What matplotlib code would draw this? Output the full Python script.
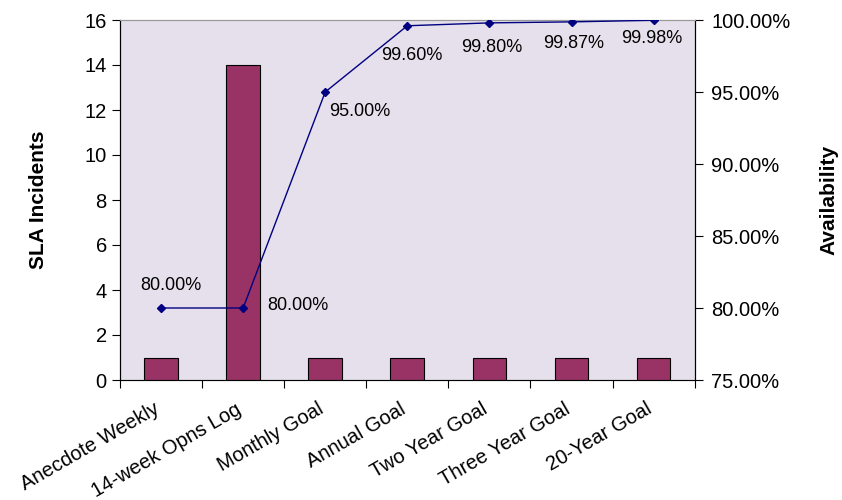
import matplotlib
matplotlib.use("Agg")
import matplotlib.pyplot as plt
import matplotlib.transforms as mtransforms
import numpy as np
from matplotlib.ticker import FuncFormatter

plt.rcParams['font.family'] = ['Liberation Sans', 'DejaVu Sans']

# data
categories = ['Anecdote Weekly', '14-week Opns Log', 'Monthly Goal', 'Annual Goal',
              'Two Year Goal', 'Three Year Goal', '20-Year Goal']
incidents = [1, 14, 1, 1, 1, 1, 1]
availability = [80.00, 80.00, 95.00, 99.60, 99.80, 99.87, 99.98]

x = np.arange(len(categories))

fig = plt.figure(figsize=(8.42, 5.0), dpi=100)
ax = fig.add_axes([0.1425, 0.24, 0.6825, 0.72])
ax.set_facecolor('#E6E0EC')

ax.bar(x, incidents, width=0.41, color='#993366', edgecolor='black', linewidth=0.8, zorder=2)
ax.set_xlim(-0.5, len(categories) - 0.5)
ax.set_ylim(0, 16)
ax.set_yticks(np.arange(0, 17, 2))
ax.set_ylabel('SLA Incidents', fontsize=15, fontweight='bold', labelpad=26)

# ticks between categories, labels at centres
ax.set_xticks(np.arange(-0.5, len(categories), 1))
ax.set_xticklabels([])
ax.set_xticks(x, minor=True)
ax.set_xticklabels(categories, minor=True, rotation=30, ha='right', rotation_mode='anchor', fontsize=14.5)
ax.tick_params(axis='x', which='minor', length=0, pad=14)
ax.tick_params(axis='x', which='major', length=6, direction='out')
ax.tick_params(axis='y', labelsize=14.5, length=6)
shift = mtransforms.ScaledTranslation(-8 / 100, 0, fig.dpi_scale_trans)
for lbl in ax.get_xticklabels(minor=True):
    lbl.set_transform(lbl.get_transform() + shift)

ax.spines['top'].set_color('#999999')
ax.spines['bottom'].set_color('#777777')

ax2 = ax.twinx()
ax2.plot(x, availability, color='#000080', marker='D', markersize=4, linewidth=1, zorder=3)
ax2.set_ylim(75, 100)
ax2.set_yticks(np.arange(75, 100.1, 5))
ax2.yaxis.set_major_formatter(FuncFormatter(lambda v, p: f'{v:.2f}%'))
ax2.tick_params(axis='y', labelsize=14.5, length=6, pad=6)
ax2.set_ylabel('Availability', fontsize=15, fontweight='bold', rotation=90, labelpad=21)
ax2.spines['top'].set_color('#999999')

# data labels (offsets in pixels)
offsets = [(10, 23), (24, 3), (35, -20), (4, -30), (2, -25), (2, -22), (-2, -18)]
has = ['center', 'left', 'center', 'center', 'center', 'center', 'center']
for xi, v, off, h in zip(x, availability, offsets, has):
    ax2.annotate(f'{v:.2f}%', (xi, v), xytext=off, textcoords='offset pixels',
                 ha=h, va='center', fontsize=13)

fig.savefig('out.png', dpi=100)
